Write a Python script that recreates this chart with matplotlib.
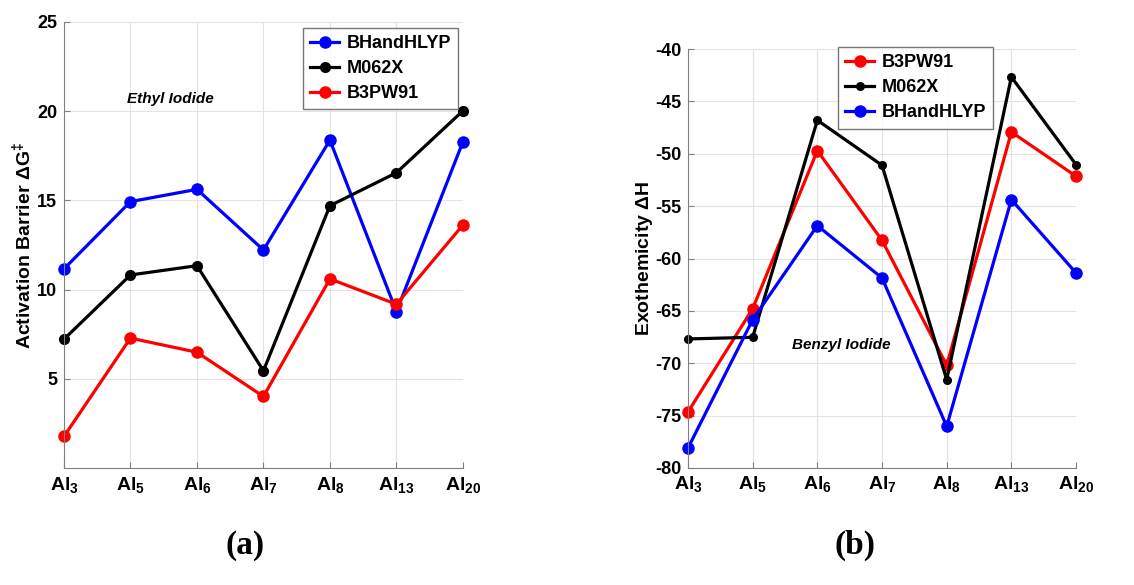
import numpy as np
import matplotlib.pyplot as plt

clusters = ['Al$_3$', 'Al$_5$', 'Al$_6$', 'Al$_7$', 'Al$_8$', 'Al$_{13}$', 'Al$_{20}$']

# (a) ethyl iodide, activation barrier
ethyl_bhandhlyp = [11.16, 14.93, 15.62, 12.22, 18.38, 8.77, 18.28]
ethyl_m062x = [7.22, 10.82, 11.34, 5.45, 14.70, 16.55, 20.02]
ethyl_b3pw91 = [1.77, 7.28, 6.49, 4.01, 10.60, 9.18, 13.62]

# (b) benzyl iodide, exothermicity
benzyl_b3pw91 = [-74.65, -64.79, -49.70, -58.26, -70.2, -47.92, -52.15]
benzyl_m062x = [-67.68, -67.52, -46.8, -51.1, -71.57, -42.67, -51.04]
benzyl_bhandhlyp = [-78.09, -65.84, -56.86, -61.86, -76.02, -54.38, -61.38]

plt.rcParams['font.family'] = ['Liberation Sans', 'DejaVu Sans']
plt.rcParams['font.weight'] = 'bold'
plt.rcParams['mathtext.default'] = 'regular'
plt.rcParams['axes.unicode_minus'] = False

x = np.arange(len(clusters))
fig = plt.figure(figsize=(11.34, 5.85), dpi=100)
ax1 = fig.add_axes([0.0564, 0.2, 0.3518, 0.7624])
ax2 = fig.add_axes([0.6067, 0.2, 0.3422, 0.7162])


def style(ax):
    ax.grid(True, color='#e3e3e3', linewidth=0.8)
    ax.set_axisbelow(True)
    for s in ['top', 'right']:
        ax.spines[s].set_visible(False)
    for s in ['left', 'bottom']:
        ax.spines[s].set_color('#808080')
    ax.tick_params(direction='in', length=4, color='#808080', labelsize=13, pad=5)
    ax.set_xticks(x)
    ax.set_xticklabels(clusters, fontsize=14)
    ax.set_xlim(0, 6)


ax1.plot(x, ethyl_bhandhlyp, '-o', color='#0000ff', lw=2.3, ms=8, label='BHandHLYP', clip_on=False)
ax1.plot(x, ethyl_m062x, '-o', color='black', lw=2.3, ms=7, label='M062X', clip_on=False)
ax1.plot(x, ethyl_b3pw91, '-o', color='#ff0000', lw=2.3, ms=8, label='B3PW91', clip_on=False)
style(ax1)
ax1.set_ylim(0, 25)
ax1.set_yticks([5, 10, 15, 20, 25])
ax1.set_ylabel(r'Activation Barrier $\Delta$G$^{\ddagger}$', fontsize=14, fontweight='bold', labelpad=2)
ax1.text(1.6, 20.67, 'Ethyl Iodide', style='italic', fontweight='bold', fontsize=11, ha='center', va='center')
leg1 = ax1.legend(loc='upper right', bbox_to_anchor=(0.988, 0.987), fontsize=13, frameon=True, fancybox=False,
                  edgecolor='#555555', handlelength=1.6, handletextpad=0.4, borderaxespad=0,
                  labelspacing=0.45)
leg1.get_frame().set_linewidth(1)

ax2.plot(x, benzyl_b3pw91, '-o', color='#ff0000', lw=2.3, ms=8, label='B3PW91', clip_on=False)
ax2.plot(x, benzyl_m062x, '-o', color='black', lw=2.3, ms=5.5, label='M062X', clip_on=False)
ax2.plot(x, benzyl_bhandhlyp, '-o', color='#0000ff', lw=2.3, ms=8, label='BHandHLYP', clip_on=False)
style(ax2)
ax2.tick_params(axis='x', pad=4)
ax2.set_ylim(-80, -40)
ax2.set_yticks(np.arange(-80, -39, 5))
ax2.set_ylabel(r'Exothemicity $\Delta$H', fontsize=14, fontweight='bold', labelpad=0)
ax2.text(2.37, -68.3, 'Benzyl Iodide', style='italic', fontweight='bold', fontsize=11, ha='center', va='center')
leg2 = ax2.legend(loc='upper left', bbox_to_anchor=(0.387, 1.005), fontsize=13, frameon=True, fancybox=False,
                  edgecolor='#555555', handlelength=1.6, handletextpad=0.4, borderaxespad=0,
                  labelspacing=0.45)
leg2.get_frame().set_linewidth(1)

fig.text(0.216, 0.068, '(a)', family='Liberation Serif', fontweight='bold', fontsize=24, ha='center', va='center')
fig.text(0.754, 0.067, '(b)', family='Liberation Serif', fontweight='bold', fontsize=24, ha='center', va='center')

fig.savefig('out.png', dpi=100)
